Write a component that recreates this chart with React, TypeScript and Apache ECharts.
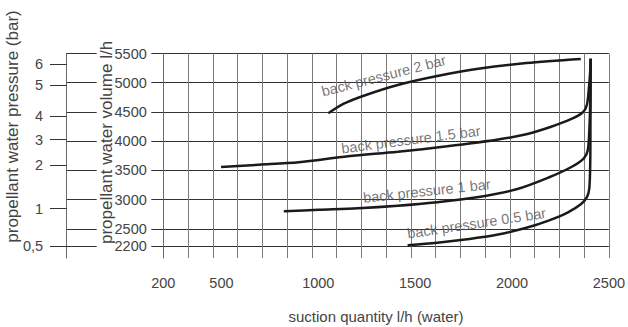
import React, { useEffect, useRef } from 'react';
import * as echarts from 'echarts';

// x axis (suction quantity l/h) labels
const xTickLabels = [200, 500, 1000, 1500, 2000, 2500];
// left volume axis ticks (l/h)
const volumeTicks = [2200, 2500, 3000, 3500, 4000, 4500, 5000, 5500];
// pressure scale (bar) and the volume level each pressure tick sits at
const pressureLabels = ['0,5', '1', '2', '3', '4', '5', '6'];
const pressureAtVolume = [2200, 2846, 3587, 4027, 4426, 4957, 5316];

const curveNames = ['back pressure 2 bar', 'back pressure 1.5 bar', 'back pressure 1 bar', 'back pressure 0.5 bar'];

const suction2 = [1052, 1129, 1231, 1410, 1614, 1834, 2074, 2355];
const volume2 = [4477, 4636, 4773, 4961, 5115, 5243, 5337, 5406];

const suction15 = [498, 694, 899, 1154, 1410, 1665, 1921, 2074, 2202, 2304, 2366, 2386, 2396, 2404, 2406];
const volume15 = [3558, 3596, 3638, 3741, 3818, 3912, 4024, 4118, 4246, 4375, 4494, 4614, 4871, 5213, 5410];

const suction1 = [822, 1001, 1205, 1410, 1614, 1819, 2023, 2192, 2304, 2371, 2391, 2399, 2404, 2406];
const volume1 = [2800, 2825, 2851, 2894, 2954, 3039, 3176, 3382, 3553, 3707, 3844, 4186, 4700, 5410];

const suction05 = [1461, 1614, 1768, 1921, 2074, 2192, 2289, 2355, 2386, 2399, 2404, 2405, 2406];
const volume05 = [2217, 2260, 2320, 2397, 2517, 2645, 2782, 2919, 3039, 3193, 3673, 4357, 5410];

const labelSuction = [1338, 1478, 1560, 1817];
const labelVolume = [5119, 4027, 3147, 2594];
const labelAngle = [14.5, 7.3, 6.2, 8.5];

const TEXT_FONT = "'Liberation Sans', Arial, sans-serif";
const TEXT_COLOR = '#444';

export default function App() {
  const ref = useRef<HTMLDivElement>(null);
  useEffect(() => {
    if (!ref.current) return;
    const chart = echarts.init(ref.current, undefined, { renderer: 'svg' });
    const curves = [
      [suction2, volume2],
      [suction15, volume15],
      [suction1, volume1],
      [suction05, volume05],
    ];
    const nearestPressure = (v: number) => {
      let best = 0;
      for (let i = 0; i < pressureAtVolume.length; i++) {
        if (Math.abs(pressureAtVolume[i] - v) < Math.abs(pressureAtVolume[best] - v)) best = i;
      }
      return pressureLabels[best];
    };
    const plain = (v: number) => String(Math.round(v));
    const yRange = { min: 2000, max: 5500 };
    chart.setOption({
      animation: false,
      textStyle: { fontFamily: TEXT_FONT },
      grid: { left: 163.3, right: 15.3, top: 53.5, bottom: 69, containLabel: false },
      xAxis: [
        {
          type: 'value',
          min: 200,
          max: 2500,
          axisLine: { show: false },
          axisTick: { show: false },
          splitLine: { show: false },
          axisLabel: {
            customValues: xTickLabels,
            formatter: plain,
            margin: 17,
            color: TEXT_COLOR,
            fontSize: 14.5,
          },
        },
        {
          type: 'value',
          min: 0,
          max: 18,
          interval: 1,
          position: 'bottom',
          axisLine: { show: false },
          axisTick: { show: false },
          axisLabel: { show: false },
          splitLine: { show: true, lineStyle: { color: '#7a7a7a', width: 1 } },
        },
      ],
      yAxis: [
        {
          type: 'value',
          ...yRange,
          position: 'left',
          offset: 0,
          axisLine: { show: true, lineStyle: { color: '#6a6a6a', width: 1 } },
          axisTick: { show: true, length: 12, customValues: volumeTicks, lineStyle: { color: '#333' } },
          axisLabel: {
            customValues: volumeTicks,
            formatter: plain,
            margin: 16.5,
            color: TEXT_COLOR,
            fontSize: 14.5,
          },
          splitLine: { show: true, lineStyle: { color: '#333', width: 1 } },
        },
        {
          type: 'value',
          ...yRange,
          position: 'left',
          offset: 96.6,
          axisLine: { show: true, lineStyle: { color: '#6a6a6a', width: 1 } },
          axisTick: { show: true, inside: true, length: 30, customValues: volumeTicks, lineStyle: { color: '#333' } },
          axisLabel: { show: false },
          splitLine: { show: false },
        },
        {
          type: 'value',
          ...yRange,
          position: 'left',
          offset: 96.6,
          axisLine: { show: false },
          axisTick: { show: true, length: 16.7, customValues: pressureAtVolume, lineStyle: { color: '#333' } },
          axisLabel: {
            customValues: pressureAtVolume,
            formatter: (v: number) => nearestPressure(v),
            margin: 23.5,
            color: TEXT_COLOR,
            fontSize: 14.5,
          },
          splitLine: { show: false },
        },
      ],
      graphic: [
        {
          type: 'text',
          x: 12.5,
          y: 126.5,
          rotation: Math.PI / 2,
          style: {
            text: 'propellant water pressure (bar)',
            fill: TEXT_COLOR,
            font: `17px ${TEXT_FONT}`,
            align: 'center',
            verticalAlign: 'middle',
            textAlign: 'center',
            textVerticalAlign: 'middle',
          },
        },
        {
          type: 'text',
          x: 106.5,
          y: 142.5,
          rotation: Math.PI / 2,
          style: {
            text: 'propellant water volume l/h',
            fill: TEXT_COLOR,
            font: `17px ${TEXT_FONT}`,
            align: 'center',
            verticalAlign: 'middle',
            textAlign: 'center',
            textVerticalAlign: 'middle',
          },
        },
        {
          type: 'text',
          x: 376,
          y: 316.7,
          style: {
            text: 'suction quantity l/h (water)',
            fill: TEXT_COLOR,
            font: `15px ${TEXT_FONT}`,
            align: 'center',
            verticalAlign: 'middle',
            textAlign: 'center',
            textVerticalAlign: 'middle',
          },
        },
      ],
      series: [
        ...curves.map(([xs, ys], k) => ({
          type: 'line',
          name: curveNames[k],
          xAxisIndex: 0,
          yAxisIndex: 0,
          data: xs.map((x, i) => [x, ys[i]]),
          symbol: 'none',
          showSymbol: false,
          smooth: 0.3,
          silent: true,
          z: 5,
          lineStyle: { color: '#1a1a1a', width: 2.5 },
        })),
        {
          type: 'scatter',
          xAxisIndex: 0,
          yAxisIndex: 0,
          silent: true,
          symbolSize: 1,
          itemStyle: { color: 'rgba(0,0,0,0)' },
          z: 6,
          data: curveNames.map((n, i) => ({
            name: n,
            value: [labelSuction[i], labelVolume[i]],
            label: { rotate: labelAngle[i] },
          })),
          label: {
            show: true,
            position: 'inside',
            formatter: '{b}',
            color: '#555',
            fontFamily: TEXT_FONT,
            fontSize: 14.5,
            align: 'center',
            verticalAlign: 'middle',
          },
        },
      ],
    });
    return () => chart.dispose();
  }, []);
  return (
    <div
      ref={ref}
      style={{ position: 'absolute', left: 0, top: 0, width: 628, height: 327, background: '#fff' }}
    />
  );
}
